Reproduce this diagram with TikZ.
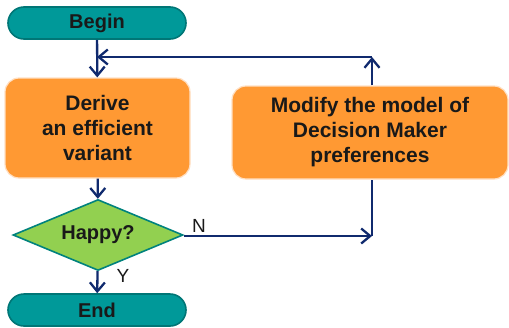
\documentclass[tikz,border=0pt]{standalone}
\usepackage{fontspec}
\setmainfont{Liberation Sans}
\usetikzlibrary{shapes.geometric,arrows.meta}
\definecolor{tealfill}{RGB}{0,153,153}
\definecolor{tealline}{RGB}{0,118,118}
\definecolor{boxfill}{RGB}{255,153,51}
\definecolor{boxline}{RGB}{255,224,196}
\definecolor{askfill}{RGB}{146,208,80}
\definecolor{askline}{RGB}{0,130,125}
\definecolor{flowcol}{RGB}{16,42,110}

\begin{document}
\begin{tikzpicture}[x=1pt,y=-1pt,
  term/.style={draw=tealline,line width=1.6pt,fill=tealfill,rounded corners=16pt,
    minimum width=178pt,minimum height=32pt,inner sep=0pt,
    font=\fontsize{20}{24}\selectfont\bfseries,text=black!90},
  proc/.style={draw=boxline,line width=1.2pt,fill=boxfill,rounded corners=14pt,
    align=center,inner sep=0pt,font=\fontsize{21}{25}\selectfont\bfseries,text=black!90},
  ask/.style={diamond,shape aspect=2.4,draw=askline,line width=1.6pt,fill=askfill,
    minimum width=170pt,minimum height=71pt,inner sep=0pt,
    font=\fontsize{20}{24}\selectfont\bfseries,text=black!90},
  flow/.style={draw=flowcol,line width=2.3pt,-{Straight Barb[length=9pt,width=15pt]}},
  plain/.style={draw=flowcol,line width=2.3pt},
  lbl/.style={font=\fontsize{19}{22}\selectfont,text=black!90,inner sep=1pt}]
\useasboundingbox (0,0) rectangle (509,327);

% blocks
\node[term] (begin) at (97,23) {Begin};
\node[proc,minimum width=185pt,minimum height=100pt] (derive) at (97.5,128)
  {Derive\\an efficient\\variant};
\node[proc,minimum width=276pt,minimum height=93pt] (modify) at (370,132.5)
  {Modify the model of\\Decision Maker\\preferences};
\node[ask] (happy) at (98,235) {Happy?};
\node[term] (end) at (97,310) {End};

% corners of the loop
\coordinate (cn) at (372,236);
\coordinate (cm) at (372,57);
\coordinate (cb) at (97,57);

% arrows
\draw[flow] (begin) -- (derive);
\draw[flow] (derive) -- (happy);
\draw[flow] (happy) -- (end);
\node[lbl] (yes) at (123,276) {Y};
\draw[flow] (happy.east |- cn) -- (cn);
\node[lbl] (no) at (199,226) {N};
\draw[plain] (cn) -- (cn |- modify.south);
\draw[flow] (cn |- modify.north) -- (cm);
\draw[flow] (cm) -- (cb);

\end{tikzpicture}
\end{document}
